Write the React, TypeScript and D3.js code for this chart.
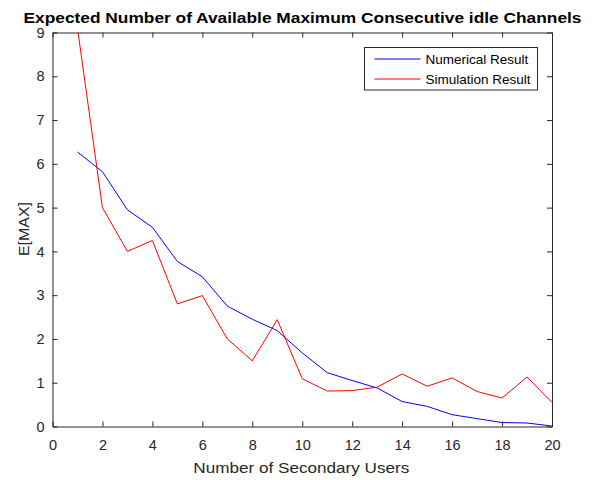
import React, {useRef, useEffect} from 'react'
import * as d3 from "d3";

// number of secondary users (x axis)
const users = [1, 2, 3, 4, 5, 6, 7, 8, 9, 10, 11, 12, 13, 14, 15, 16, 17, 18, 19, 20];

// numerical result (blue)
const numerical = [6.27, 5.82, 4.95, 4.55, 3.77, 3.42, 2.75, 2.45, 2.19, 1.68, 1.23, 1.05, 0.88, 0.57, 0.46, 0.27, 0.18, 0.09, 0.08, 0.01];

// simulation result (red)
const simulation = [9.1, 5.0, 4.0, 4.25, 2.8, 2.99, 2.0, 1.5, 2.44, 1.09, 0.81, 0.82, 0.9, 1.2, 0.92, 1.11, 0.8, 0.65, 1.13, 0.55];

const xTicks = [0, 2, 4, 6, 8, 10, 12, 14, 16, 18, 20];
const yTicks = [0, 1, 2, 3, 4, 5, 6, 7, 8, 9];

const seriesNames = ["Numerical Result", "Simulation Result"];
const seriesColors = ["#0000ff", "#ff0000"];

const App = () => {
  const svgRef = useRef<SVGSVGElement>(null);

  useEffect(() => {
    const width = 592;
    const height = 480;
    const marginTop = 32.5;
    const marginRight = 40;
    const marginBottom = 53.5;
    const marginLeft = 52.5;
    const font = "'Liberation Sans', Arial, Helvetica, sans-serif";
    const axisColor = "#262626";

    const svg = d3.select(svgRef.current);
    svg.selectAll("*").remove();
    svg.attr("width", width).attr("height", height)
      .style("position", "absolute")
      .style("left", "0px")
      .style("top", "0px")
      .style("font-family", font);

    svg.append("rect").attr("width", width).attr("height", height).attr("fill", "#fff");

    const x = d3.scaleLinear().domain([0, 20]).range([marginLeft, width - marginRight]);
    const y = d3.scaleLinear().domain([0, 9]).range([height - marginBottom, marginTop]);

    const x0 = x.range()[0], x1 = x.range()[1];
    const y0 = y.range()[0], y1 = y.range()[1];

    svg.append("defs").append("clipPath").attr("id", "plotclip")
      .append("rect").attr("x", x0).attr("y", y1).attr("width", x1 - x0).attr("height", y0 - y1);

    // lines
    const line = d3.line<number>()
      .x((d, i) => x(users[i]))
      .y(d => y(d));

    const plot = svg.append("g").attr("clip-path", "url(#plotclip)");
    [numerical, simulation].forEach((s, k) => {
      plot.append("path")
        .attr("d", line(s))
        .attr("fill", "none")
        .attr("stroke", seriesColors[k])
        .attr("stroke-width", 1);
    });

    // axes box with inward ticks on all sides
    const tickLen = 5;
    const bottom = d3.axisBottom(x).tickValues(xTicks).tickSizeInner(-tickLen).tickSizeOuter(0).tickPadding(13);
    const top = d3.axisTop(x).tickValues(xTicks).tickSizeInner(-tickLen).tickSizeOuter(0).tickFormat(() => "");
    const left = d3.axisLeft(y).tickValues(yTicks).tickSizeInner(-tickLen).tickSizeOuter(0).tickPadding(8);
    const right = d3.axisRight(y).tickValues(yTicks).tickSizeInner(-tickLen).tickSizeOuter(0).tickFormat(() => "");

    const styleAxis = (g) => {
      g.select(".domain").attr("stroke", axisColor);
      g.selectAll(".tick line").attr("stroke", axisColor);
      g.selectAll(".tick text").attr("fill", axisColor).attr("font-size", 14.5).attr("font-family", font);
    };

    svg.append("g").attr("transform", `translate(0,${y0})`).call(bottom).call(styleAxis);
    svg.append("g").attr("transform", `translate(0,${y1})`).call(top).call(styleAxis);
    svg.append("g").attr("transform", `translate(${x0},0)`).call(left).call(styleAxis);
    svg.append("g").attr("transform", `translate(${x1},0)`).call(right).call(styleAxis);

    // title
    svg.append("text")
      .attr("x", 302.5)
      .attr("y", 23.3)
      .attr("text-anchor", "middle")
      .attr("font-weight", "bold")
      .attr("font-size", 15.5)
      .attr("textLength", 558)
      .attr("lengthAdjust", "spacingAndGlyphs")
      .attr("fill", "#000")
      .text("Expected Number of Available Maximum Consecutive idle Channels");

    // axis labels
    svg.append("text")
      .attr("x", 301.3)
      .attr("y", 473.3)
      .attr("text-anchor", "middle")
      .attr("font-size", 15.5)
      .attr("textLength", 216)
      .attr("lengthAdjust", "spacingAndGlyphs")
      .attr("fill", axisColor)
      .text("Number of Secondary Users");

    svg.append("text")
      .attr("transform", `translate(28.5,${229}) rotate(-90)`)
      .attr("text-anchor", "middle")
      .attr("font-size", 15.5)
      .attr("textLength", 54)
      .attr("lengthAdjust", "spacingAndGlyphs")
      .attr("fill", axisColor)
      .text("E[MAX]");

    // legend
    const legend = svg.append("g").attr("transform", "translate(364.5,47.5)");
    legend.append("rect")
      .attr("width", 173).attr("height", 42.5)
      .attr("fill", "#fff").attr("stroke", axisColor).attr("stroke-width", 1);
    seriesNames.forEach((name, i) => {
      const ly = 11.5 + i * 20;
      legend.append("line")
        .attr("x1", 10).attr("x2", 56).attr("y1", ly).attr("y2", ly)
        .attr("stroke", seriesColors[i]).attr("stroke-width", 1);
      legend.append("text")
        .attr("x", 61).attr("y", ly + 5)
        .attr("font-size", 13.5)
        .attr("fill", "#000")
        .text(name);
    });
  }, []);

  return (
    <svg ref={svgRef}/>
  );
}

export default App;
